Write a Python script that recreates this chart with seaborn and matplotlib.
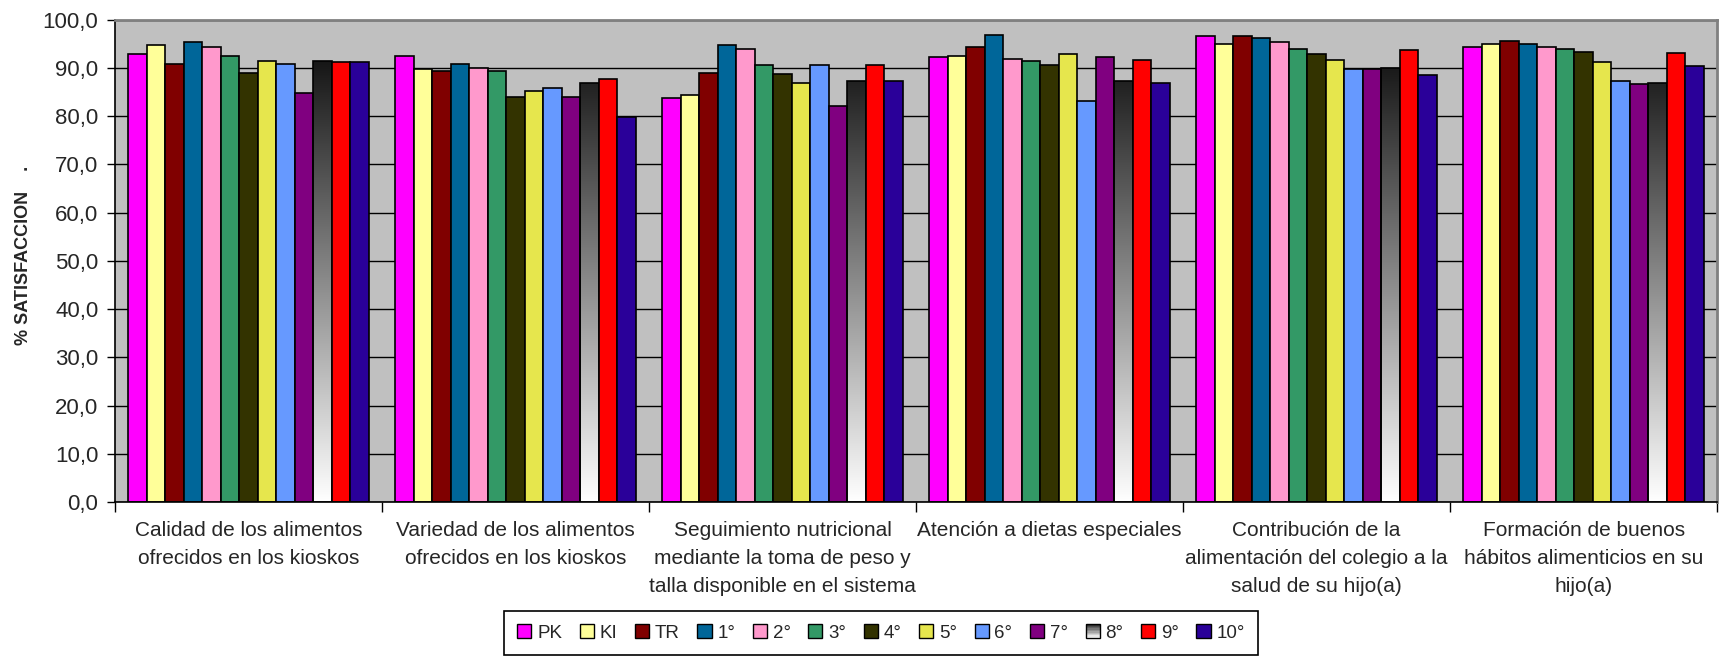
import numpy as np
import pandas as pd
import matplotlib
matplotlib.use("Agg")
import matplotlib.pyplot as plt
import seaborn as sns
from matplotlib.patches import Patch, Rectangle
from matplotlib.legend_handler import HandlerBase
from matplotlib.ticker import FuncFormatter

# --- data ---
categories = [
    "Calidad de los alimentos\nofrecidos en los kioskos",
    "Variedad de los alimentos\nofrecidos en los kioskos",
    "Seguimiento nutricional\nmediante la toma de peso y\ntalla disponible en el sistema",
    "Atención a dietas especiales",
    "Contribución de la\nalimentación del colegio a la\nsalud de su hijo(a)",
    "Formación de buenos\nhábitos alimenticios en su\nhijo(a)",
]
grades = ["PK", "KI", "TR", "1°", "2°", "3°", "4°", "5°", "6°", "7°", "8°", "9°", "10°"]

calidad = [92.8, 94.7, 90.9, 95.3, 94.4, 92.5, 89.0, 91.5, 90.9, 84.9, 91.5, 91.2, 91.2]
variedad = [92.4, 89.7, 89.4, 90.9, 89.9, 89.4, 84.0, 85.3, 85.9, 84.0, 86.8, 87.7, 79.9]
seguimiento = [83.7, 84.4, 89.0, 94.7, 94.0, 90.6, 88.8, 86.8, 90.6, 82.2, 87.2, 90.6, 87.4]
atencion = [92.2, 92.5, 94.4, 96.9, 91.9, 91.5, 90.6, 92.8, 83.1, 92.2, 87.2, 91.6, 86.8]
contribucion = [96.6, 95.0, 96.6, 96.2, 95.3, 94.0, 92.8, 91.6, 89.7, 89.7, 89.9, 93.7, 88.5]
formacion = [94.4, 95.0, 95.6, 95.0, 94.4, 94.0, 93.4, 91.2, 87.4, 86.6, 86.8, 93.1, 90.5]

colors = ["#FF00FF", "#FFFF99", "#800000", "#006699", "#FF99CC", "#339966", "#333300",
          "#E6E64D", "#6699FF", "#800080", "#FFFFFF", "#FF0000", "#2A0099"]
GRADIENT_GRADE = "8°"

rows = []
for cat, vals in zip(categories, [calidad, variedad, seguimiento, atencion, contribucion, formacion]):
    for g, v in zip(grades, vals):
        rows.append({"aspecto": cat, "curso": g, "valor": v})
df = pd.DataFrame(rows)


class GradientHandler(HandlerBase):
    """Legend key with a dark-to-white vertical gradient."""
    def create_artists(self, legend, orig_handle, xdescent, ydescent, width, height, fontsize, trans):
        n = 10
        out = []
        for i in range(n):
            shade = 1.0 - 0.8 * i / (n - 1)
            out.append(Rectangle((-xdescent, -ydescent + height * i / n), width, height / n,
                                 facecolor=(shade, shade, shade), edgecolor="none", transform=trans))
        out.append(Rectangle((-xdescent, -ydescent), width, height, facecolor="none",
                             edgecolor="black", lw=1.0, transform=trans))
        return out


sns.set_style("white")
plt.rcParams["font.family"] = ["Liberation Sans", "DejaVu Sans"]

fig = plt.figure(figsize=(17.24, 6.58), dpi=100)
ax = fig.add_axes([0.0667, 0.237, 0.9293, 0.733])

sns.barplot(data=df, x="aspecto", y="valor", hue="curso", order=categories, hue_order=grades,
            palette=dict(zip(grades, colors)), saturation=1, width=0.9, gap=0,
            edgecolor="black", linewidth=1.2, legend=False, ax=ax)

# gradient fill for 8°
grad = np.linspace(1.0, 0.0, 256).reshape(-1, 1)
cont = ax.containers[grades.index(GRADIENT_GRADE)]
for rect in cont:
    rect.set_facecolor("none")
    x, w = rect.get_x(), rect.get_width()
    im = ax.imshow(grad, cmap="gray", vmin=0, vmax=1, extent=[x, x + w, 0, 100],
                   origin="lower", aspect="auto", zorder=0.9, interpolation="bilinear")
    im.set_clip_path(rect)

ax.set_xlim(-0.5, len(categories) - 0.5)
ax.set_ylim(0, 100)
ax.set_facecolor("#C0C0C0")
ax.set_axisbelow(True)
ax.yaxis.grid(True, color="black", lw=1.0)
ax.xaxis.grid(False)

ax.set_yticks(np.arange(0, 101, 10))
ax.yaxis.set_major_formatter(FuncFormatter(lambda v, p: f"{v:.1f}".replace(".", ",")))
ax.tick_params(axis="y", direction="out", length=6, width=1, color="black", pad=6,
               labelsize=16, left=True)
ax.set_xticks(np.arange(-0.5, len(categories), 1), minor=True)
ax.tick_params(axis="x", which="major", length=0, pad=14, labelsize=15)
ax.tick_params(axis="x", which="minor", direction="out", length=7, width=1, color="black", bottom=True)
for lab in ax.get_xticklabels():
    lab.set_linespacing(1.6)

ax.set_xlabel("")
ax.set_ylabel("% SATISFACCION    .", fontsize=13, fontweight="bold")
ax.yaxis.set_label_coords(-0.052, 0.512)

for side in ["left", "bottom"]:
    ax.spines[side].set_color("black")
    ax.spines[side].set_linewidth(1.2)
for side in ["top", "right"]:
    ax.spines[side].set_visible(True)
    ax.spines[side].set_color("#808080")
    ax.spines[side].set_linewidth(2)

handles = [Patch(facecolor=c, edgecolor="black", lw=1.0) for c in colors]
grad_handle = handles[grades.index(GRADIENT_GRADE)]
leg = fig.legend(handles, grades, loc="center", bbox_to_anchor=(0.511, 0.038), ncol=len(grades),
                 fontsize=13.5, frameon=True, fancybox=False, edgecolor="black", framealpha=1,
                 handlelength=0.75, handleheight=0.75, handletextpad=0.3, columnspacing=0.95,
                 borderpad=0.7, handler_map={grad_handle: GradientHandler()})
leg.get_frame().set_linewidth(1.2)

fig.savefig("out.png", dpi=100)
